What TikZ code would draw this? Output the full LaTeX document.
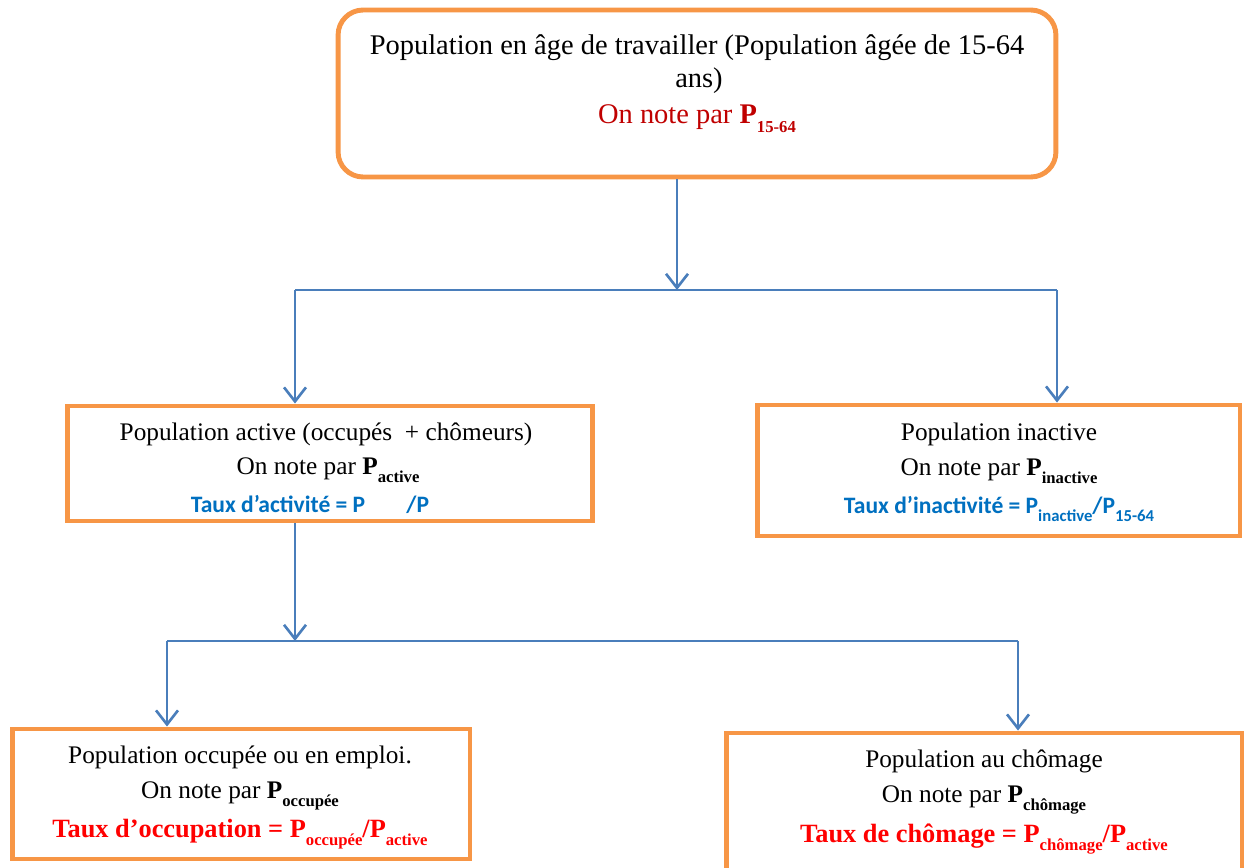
\documentclass[tikz,border=0pt]{standalone}
\usepackage{fontspec}
\setmainfont{Liberation Serif}
\newfontfamily\calib{Carlito}
\usetikzlibrary{arrows.meta}
\definecolor{bord}{HTML}{F79646}
\definecolor{connc}{HTML}{4A7EBB}
\definecolor{tblue}{HTML}{0070C0}
\definecolor{tdred}{HTML}{C00000}
\definecolor{tred}{HTML}{FF0000}
\newcommand\lowsub[1]{\raisebox{-4.8pt}{\fontsize{9.5}{10}\selectfont\bfseries #1}}
\begin{document}
\begin{tikzpicture}[x=0.02cm,y=-0.02cm,
  box/.style={draw=bord,line width=2.8pt,inner sep=0pt,fill=white},
  txt/.style={anchor=base,inner sep=0pt,font=\fontsize{14.4}{16}\selectfont},
  ttxt/.style={anchor=base,inner sep=0pt,font=\fontsize{16.2}{18}\selectfont},
  bluetxt/.style={txt,text=tblue,font=\calib\bfseries\fontsize{13.4}{15}\selectfont},
  redtxt/.style={txt,text=tred,font=\bfseries\fontsize{15}{17}\selectfont},
  conn/.style={draw=connc,line width=1.5pt},
  arr/.style={conn,-{Straight Barb[length=8pt,width=12.5pt,line width=1.5pt]}}
]
\useasboundingbox (0,0) rectangle (1244,868);
\clip (0,0) rectangle (1244,868);
% boxes
\node (top) [box,rounded corners=0.5cm,minimum width=14.36cm,minimum height=3.34cm] at (697,93.5) {};
\node (left) [box,minimum width=10.52cm,minimum height=2.30cm] at (330,463.5) {};
\node (right) [box,minimum width=9.66cm,minimum height=2.62cm] at (998.5,470.5) {};
\node (bl) [box,minimum width=9.16cm,minimum height=2.60cm] at (241,794) {};
\node (br) [box,minimum width=10.32cm,minimum height=2.80cm] at (984,803) {};
% texts
\node (t1) [ttxt] at (697,55) {Population en âge de travailler (Population âgée de 15-64};
\node (t2) [ttxt] at (699,88) {ans)};
\node (t3) [ttxt,text=tdred] at (697,124) {On note par \textbf{P}\lowsub{15-64}};
\node (l1) [txt] at (326,440) {Population active (occupés~ + chômeurs)};
\node (l2) [txt] at (328,474) {On note par \textbf{P}\lowsub{active}};
\node (l3) [bluetxt] at (310,512) {Taux d’activité = P\lowsub{\phantom{active}}/P};
\node (r1) [txt] at (999,440) {Population inactive};
\node (r2) [txt] at (999,475) {On note par \textbf{P}\lowsub{inactive}};
\node (r3) [bluetxt] at (999,513) {Taux d’inactivité = P\lowsub{inactive}/P\lowsub{15-64}};
\node (b1) [txt] at (240,763) {Population occupée ou en emploi.};
\node (b2) [txt] at (240,798) {On note par \textbf{P}\lowsub{occupée}};
\node (b3) [redtxt] at (240,837) {Taux d’occupation = P\lowsub{occupée}/P\lowsub{active}};
\node (c1) [txt] at (984,767) {Population au chômage};
\node (c2) [txt] at (984,802) {On note par \textbf{P}\lowsub{chômage}};
\node (c3) [redtxt] at (984,842) {Taux de chômage = P\lowsub{chômage}/P\lowsub{active}};
% connectors
\coordinate (j1) at (677,290);
\coordinate (jl) at (295,290);
\coordinate (jr) at (1057,290);
\coordinate (k1) at (295,641);
\coordinate (kl) at (167,641);
\coordinate (kr) at (1018,641);
\draw[arr] (top.south -| j1) -- (j1);
\draw[conn] (jl) -- (jr);
\draw[arr] (jl) -- (jl |- left.north);
\draw[arr] (jr) -- (jr |- right.north);
\draw[arr] (left.south -| k1) -- (k1);
\draw[conn] (kl) -- (kr);
\draw[arr] (kl) -- (kl |- bl.north);
\draw[arr] (kr) -- (kr |- br.north);
\end{tikzpicture}
\end{document}
